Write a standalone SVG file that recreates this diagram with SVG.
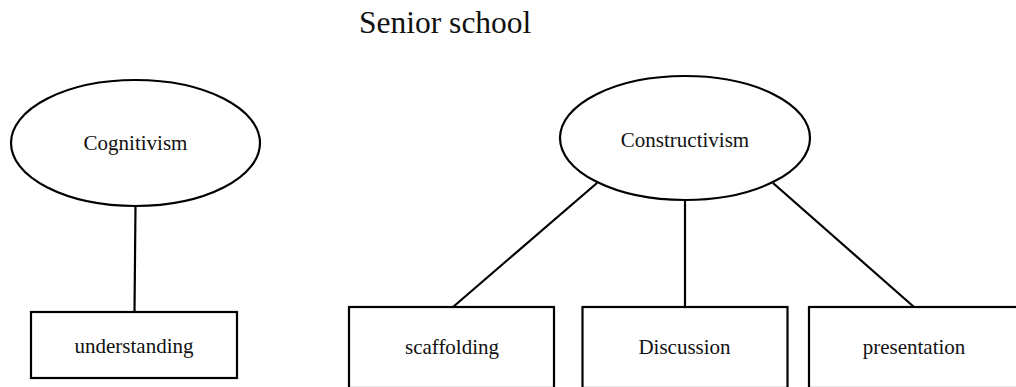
<svg xmlns="http://www.w3.org/2000/svg" width="1016" height="387" viewBox="0 0 1016 387">
<style>
.shape{fill:#fff;stroke:#000;stroke-width:2.2}
.lbl{font-family:"Liberation Serif","Times New Roman",serif;font-size:21px;fill:#111;text-anchor:middle}
.title{font-family:"Liberation Serif","Times New Roman",serif;font-size:31.5px;fill:#111}
.conn line{stroke:#000;stroke-width:2.2}
</style>
<rect width="1016" height="387" fill="#fff"/>
<text class="title" x="359" y="33">Senior school</text>
<g class="conn" id="connectors">
<line x1="135.5" y1="206" x2="134.5" y2="312"/>
<line x1="597" y1="183" x2="453" y2="307"/>
<line x1="685" y1="200" x2="685" y2="307"/>
<line x1="773" y1="183" x2="914" y2="307"/>
</g>
<g id="cognitivism">
<ellipse class="shape" cx="135.5" cy="143" rx="124.5" ry="63"/>
<text class="lbl" x="135.5" y="150">Cognitivism</text>
</g>
<g id="constructivism">
<ellipse class="shape" cx="685" cy="138" rx="125" ry="62"/>
<text class="lbl" x="685" y="147">Constructivism</text>
</g>
<g id="understanding">
<rect class="shape" x="31" y="312" width="206" height="66"/>
<text class="lbl" x="134" y="353">understanding</text>
</g>
<g id="scaffolding">
<rect class="shape" x="349" y="307" width="205" height="81"/>
<text class="lbl" x="452" y="354">scaffolding</text>
</g>
<g id="discussion">
<rect class="shape" x="582.5" y="307" width="205" height="81"/>
<text class="lbl" x="684.5" y="354">Discussion</text>
</g>
<g id="presentation">
<rect class="shape" x="809" y="307" width="215" height="81"/>
<text class="lbl" x="914" y="354">presentation</text>
</g>
</svg>
